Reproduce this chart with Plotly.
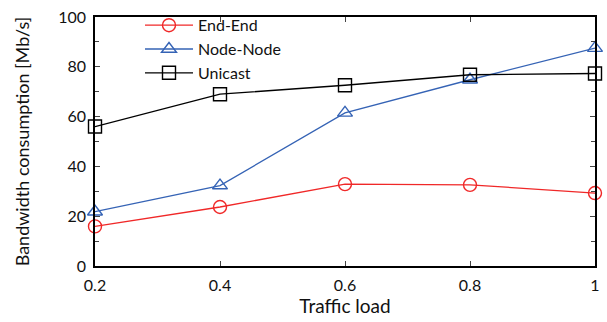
import plotly.graph_objects as go

traffic_load = [0.2, 0.4, 0.6, 0.8, 1.0]
end_end = [15.9, 23.7, 32.9, 32.6, 29.3]
node_node = [21.8, 32.3, 61.5, 74.8, 87.5]
unicast = [56.0, 69.0, 72.6, 76.8, 77.3]

x_ticks = [0.2, 0.4, 0.6, 0.8, 1.0]
x_tick_labels = ["0.2", "0.4", "0.6", "0.8", "1"]
y_ticks = [0, 20, 40, 60, 80, 100]

font_family = "Lato, Open Sans, sans-serif"

fig = go.Figure()
series = [
    ("End-End", end_end, "#f02828", "circle-open"),
    ("Node-Node", node_node, "#3563b5", "triangle-up-open"),
    ("Unicast", unicast, "#000000", "square-open"),
]
for name, vals, color, sym in series:
    fig.add_trace(go.Scatter(
        x=traffic_load, y=vals, name=name, mode="lines+markers",
        line=dict(color=color, width=1.3),
        marker=dict(symbol=sym, size=13, color=color, line=dict(width=1.4, color=color)),
        cliponaxis=False,
    ))

fig.update_layout(
    width=607, height=322,
    margin=dict(l=95, r=7, t=16, b=56),
    paper_bgcolor="white", plot_bgcolor="white",
    font=dict(family=font_family, size=16, color="#111"),
    legend=dict(x=0.09, y=1.035, xanchor="left", yanchor="top",
                bgcolor="rgba(0,0,0,0)", font=dict(size=16),
                tracegroupgap=0, itemwidth=48),
    showlegend=True,
)
fig.update_xaxes(
    range=[0.2, 1.0], tickvals=x_ticks, ticktext=x_tick_labels,
    showline=True, linecolor="black", linewidth=1.5, mirror="allticks",
    ticks="inside", ticklen=5, tickcolor="#444", showgrid=False, zeroline=False,
    title=dict(text="Traffic load", font=dict(size=19), standoff=0),
    tickfont=dict(size=16), ticklabelstandoff=4,
)
fig.update_yaxes(
    range=[0, 100], tickvals=y_ticks,
    showline=True, linecolor="black", linewidth=1.5, mirror="allticks",
    ticks="inside", ticklen=5, tickcolor="#444", showgrid=False, zeroline=False,
    minor=dict(dtick=10, ticks="inside", ticklen=4, tickcolor="#444", showgrid=False),
    title=dict(text="Bandwidth consumption [Mb/s]", font=dict(size=18), standoff=24),
    tickfont=dict(size=16), ticklabelstandoff=4,
)

fig.write_html("out.html")
